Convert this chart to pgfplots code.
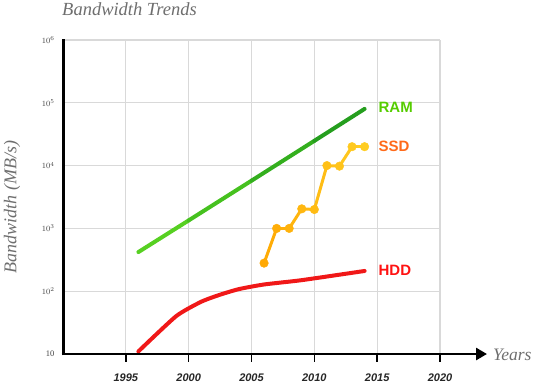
\documentclass[border=0pt]{standalone}
\usepackage{pgfplots}
\pgfplotsset{compat=1.18}
\usepackage{fontspec}
\setmainfont{Liberation Serif}
\setsansfont{Liberation Sans}
\usetikzlibrary{arrows.meta}
\definecolor{gridgray}{HTML}{D9D9D9}
\definecolor{titlegray}{HTML}{6E6E6E}
\definecolor{ramlabel}{HTML}{55CC00}
\definecolor{ssdlabel}{HTML}{FF6A1A}
\definecolor{hddlabel}{HTML}{FF1212}
\definecolor{hddline}{HTML}{F01818}
\pgfplotstableread{
x y
2006 280
2007 1000
2008 1000
2009 2050
2010 2000
2011 10000
2012 9800
2013 20000
2014 20000
}\ssddata
\begin{document}
\begin{tikzpicture}
\useasboundingbox (-63pt,-32pt) rectangle (471pt,354pt);
\begin{axis}[
  scale only axis, width=377pt, height=314pt,
  xmin=1990, xmax=2020, ymin=10, ymax=1e6, ymode=log,
  axis line style={draw=none},
  clip=false,
  grid=major, major grid style={gridgray, line width=1.3pt},
  xtick={1995,2000,...,2020},
  xticklabels={1995,2000,2005,2010,2015,2020},
  xtick pos=bottom, xtick align=outside,
  x tick style={black, line width=1.5pt},
  major tick length=8pt,
  ytick={10,100,1000,10000,100000,1000000},
  yticklabels={10,$10^2$,$10^3$,$10^4$,$10^5$,$10^6$},
  ytick pos=left,
  y tick style={draw=none},
  xticklabel style={font=\sffamily\bfseries\itshape\fontsize{11}{11}\selectfont, text=black!85, yshift=-8pt},
  yticklabel style={font=\fontsize{8.5}{8.5}\selectfont, text=black!75, xshift=-5pt},
  point meta min=1996, point meta max=2014,
]
% HDD
\addplot[hddline, line width=4pt, line cap=round, line join=round, smooth, tension=0.35] coordinates {
 (1996,11) (1999,40) (2001,68) (2002.5,88) (2004,108) (2006,128) (2009,150) (2014,210)};
% RAM
\addplot[mesh, point meta=x, line width=4pt, line cap=round,
  colormap={ram}{rgb255=(95,215,35) rgb255=(60,185,30) rgb255=(30,150,30)}] coordinates {
 (1996,420) (2000,1340) (2005,5750) (2010,24800) (2014,80000)};
% SSD
\addplot[mesh, point meta=x, line width=3pt, line join=round,
  colormap={ssd}{rgb255=(255,150,0) rgb255=(255,165,0) rgb255=(255,205,35)}] table[x=x,y=y] {\ssddata};
\addplot[scatter, only marks, point meta=x, mark=*, mark size=4.3pt,
  scatter/use mapped color={draw=mapped color, fill=mapped color},
  colormap={ssd}{rgb255=(255,150,0) rgb255=(255,165,0) rgb255=(255,205,35)}] table[x=x,y=y] {\ssddata};
\node[anchor=west, font=\sffamily\bfseries\fontsize{15}{15}\selectfont, text=ramlabel, inner sep=0pt] at (axis cs:2015.1,85000) {RAM};
\node[anchor=west, font=\sffamily\bfseries\fontsize{15}{15}\selectfont, text=ssdlabel, inner sep=0pt] at (axis cs:2015.1,20500) {SSD};
\node[anchor=west, font=\sffamily\bfseries\fontsize{15}{15}\selectfont, text=hddlabel, inner sep=0pt] at (axis cs:2015.1,218) {HDD};
\end{axis}
% axes
\draw[black, line width=2.6pt, -{Triangle[length=11pt,width=12pt]}] (-1.3pt,0) -- (424pt,0);
\draw[black, line width=3pt] (0,-1.3pt) -- (0,315pt);
% titles
\node[anchor=base west, inner sep=0pt, text=titlegray, font=\itshape\fontsize{18.5}{18.5}\selectfont] at (-1pt,338pt) {Bandwidth Trends};
\node[rotate=90, inner sep=0pt, text=titlegray, font=\itshape\fontsize{18}{18}\selectfont] at (-51pt,147pt) {Bandwidth (MB/s)};
\node[anchor=west, inner sep=0pt, text=titlegray, font=\itshape\fontsize{17.5}{17.5}\selectfont] at (430pt,-1pt) {Years};
\end{tikzpicture}
\end{document}
